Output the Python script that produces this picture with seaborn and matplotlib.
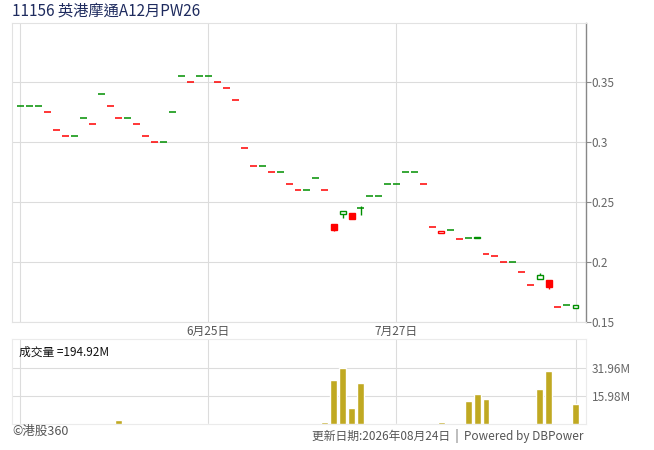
import numpy as np
import pandas as pd
import matplotlib
matplotlib.use('Agg')
import matplotlib.pyplot as plt
import seaborn as sns

# 蠟燭圖數據 (每個交易日)
opens = [0.330, 0.330, 0.330, 0.325, 0.310, 0.305, 0.305, 0.320, 0.315, 0.340,
         0.330, 0.320, 0.320, 0.315, 0.305, 0.300, 0.300, 0.325, 0.355, 0.350,
         0.355, 0.355, 0.350, 0.345, 0.335, 0.295, 0.280, 0.280, 0.275, 0.275,
         0.265, 0.260, 0.260, 0.270, 0.260, 0.232, 0.240, 0.241, 0.245, 0.255,
         0.255, 0.265, 0.265, 0.275, 0.275, 0.265, 0.229, 0.224, 0.227, 0.219,
         0.220, 0.221, 0.207, 0.205, 0.200, 0.200, 0.192, 0.181, 0.186, 0.185,
         0.163, 0.164, 0.162]
closes = [0.330, 0.330, 0.330, 0.325, 0.310, 0.305, 0.305, 0.320, 0.315, 0.340,
          0.330, 0.320, 0.320, 0.315, 0.305, 0.300, 0.300, 0.325, 0.355, 0.350,
          0.355, 0.355, 0.350, 0.345, 0.335, 0.295, 0.280, 0.280, 0.275, 0.275,
          0.265, 0.260, 0.260, 0.270, 0.260, 0.227, 0.243, 0.236, 0.245, 0.255,
          0.255, 0.265, 0.265, 0.275, 0.275, 0.265, 0.229, 0.226, 0.227, 0.219,
          0.220, 0.220, 0.207, 0.205, 0.200, 0.200, 0.192, 0.181, 0.189, 0.179,
          0.163, 0.164, 0.164]
highs = [max(o, c) for o, c in zip(opens, closes)]
lows = [min(o, c) for o, c in zip(opens, closes)]
highs[38], highs[51], highs[58] = 0.247, 0.221, 0.191
lows[35], lows[36], lows[38], lows[59] = 0.226, 0.237, 0.239, 0.178

# 成交量 (百萬)
volumes = [0.0] * 63
for idx, v in {11: 2.2, 34: 1.3, 35: 24.8, 36: 31.96, 37: 9.1, 38: 23.2,
               47: 1.3, 50: 13.1, 51: 17.0, 52: 14.2, 58: 19.8, 59: 29.9,
               62: 11.4}.items():
    volumes[idx] = v

grid_idx = [0, 21, 42, 62]
grid_labels = ['', '6月25日', '7月27日', '']
price_ticks = [0.15, 0.2, 0.25, 0.3, 0.35]
price_labels = ['0.15', '0.2', '0.25', '0.3', '0.35']
vol_ticks = [15.98, 31.96]
vol_labels = ['15.98M', '31.96M']

sns.set_style('white')
plt.rcParams['font.family'] = ['Noto Sans CJK TC', 'DejaVu Sans']

RED = '#FF0000'
GREEN = '#008F00'
GRID = '#DCDCDC'
BORDER = '#E2E2E2'

fig = plt.figure(figsize=(6.54, 4.5), dpi=100)
ax = fig.add_axes([0.0188, 0.2838, 0.8768, 0.6644])
axv = fig.add_axes([0.0188, 0.0571, 0.8768, 0.1889])

xlim = (-0.916, 63.14)
w = 0.78

# 價格圖
for i in range(len(closes)):
    prev = closes[i - 1] if i > 0 else closes[i]
    col = GREEN if closes[i] >= prev else RED
    o, c = opens[i], closes[i]
    if highs[i] > lows[i]:
        ax.vlines(i, lows[i], highs[i], color=col, lw=1.0, zorder=3)
    if o == c:
        ax.hlines(c, i - w / 2, i + w / 2, color=col, lw=1.1, zorder=4)
    else:
        face = col if c < o else 'white'
        ax.bar(i, abs(c - o), bottom=min(o, c), width=w - 0.12,
               facecolor=face, edgecolor=col, linewidth=1.0, zorder=4)

ax.set_xlim(*xlim)
ax.set_ylim(0.15, 0.399)
ax.set_yticks(price_ticks)
ax.set_yticklabels(price_labels)
ax.yaxis.tick_right()
ax.tick_params(axis='y', right=True, length=3.6, width=0.8, color='#888888',
               pad=0.8, labelsize=8.5, labelcolor='#666666')
ax.set_xticks(grid_idx)
ax.set_xticklabels(grid_labels)
ax.tick_params(axis='x', bottom=False, length=0, pad=2, labelsize=8.5,
               labelcolor='#555555')
ax.grid(True, color=GRID, lw=0.8)
ax.set_axisbelow(True)
for s in ['top', 'left', 'bottom']:
    ax.spines[s].set_color(BORDER)
    ax.spines[s].set_linewidth(0.8)
ax.spines['right'].set_color('#888888')
ax.spines['right'].set_linewidth(1.0)

# 成交量圖
vol_df = pd.DataFrame({'day': np.arange(len(volumes)), 'vol': volumes})
sns.barplot(data=vol_df, x='day', y='vol', native_scale=True, width=w,
            color='#C0A922', saturation=1, ax=axv, zorder=3)
axv.set_xlim(*xlim)
axv.set_ylim(0, 47.94)
axv.set_xticks(grid_idx)
axv.set_xticklabels([])
axv.set_yticks(vol_ticks)
axv.set_yticklabels(vol_labels)
axv.yaxis.tick_right()
axv.tick_params(axis='y', right=True, length=0, pad=4.5, labelsize=8.5,
                labelcolor='#666666')
axv.tick_params(axis='x', bottom=False, length=0)
axv.set_xlabel('')
axv.set_ylabel('')
axv.grid(True, color=GRID, lw=0.8)
axv.set_axisbelow(True)
for s in axv.spines.values():
    s.set_color('#EBEBEB')
    s.set_linewidth(0.8)
axv.text(0.011, 0.93, '成交量 =194.92M', transform=axv.transAxes,
         fontsize=8.5, color='#111111', va='top', ha='left')

# 標題及頁腳
fig.text(12 / 654, 1 - 11 / 450, '11156 英港摩通A12月PW26', fontsize=11,
         color='#1E2B5E', va='center', ha='left')
fig.text(12 / 654, 1 - 431 / 450, '©港股360', fontsize=9, color='#555555',
         va='center', ha='left')
fig.text(583 / 654, 1 - 436 / 450, '更新日期:2026年08月24日  |  Powered by DBPower',
         fontsize=8.5, color='#555555', va='center', ha='right')

fig.savefig('out.png', dpi=100)
